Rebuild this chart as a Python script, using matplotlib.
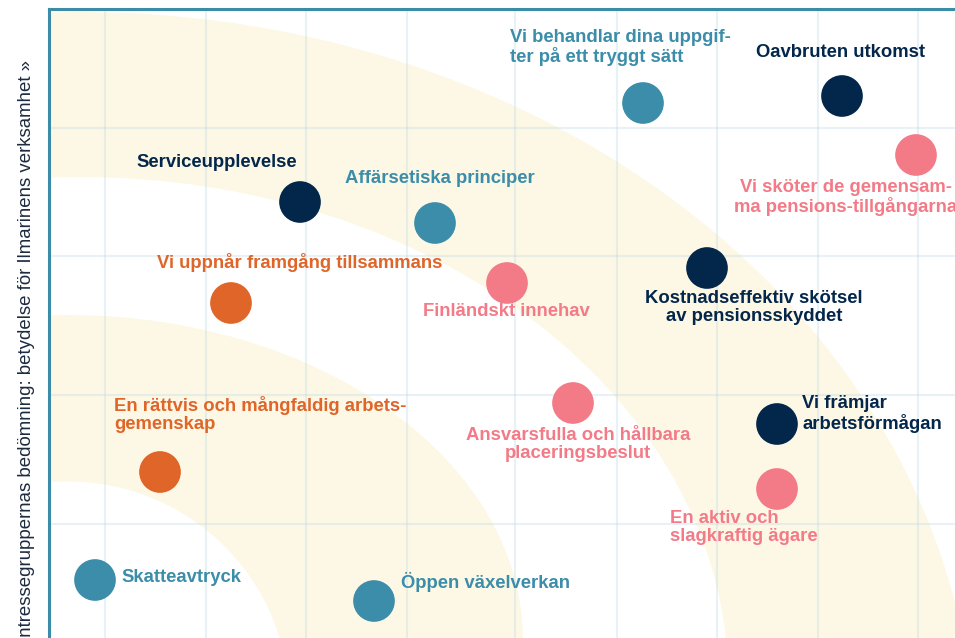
import matplotlib.pyplot as plt
from matplotlib.patches import Ellipse

# Chart data: position of each theme (x = impact, y = stakeholder importance)
labels = [
    "Vi behandlar dina uppgif-\nter på ett tryggt sätt",
    "Oavbruten utkomst",
    "Vi sköter de gemensam-\nma pensions-tillgångarna",
    "Serviceupplevelse",
    "Affärsetiska principer",
    "Vi uppnår framgång tillsammans",
    "Finländskt innehav",
    "Kostnadseffektiv skötsel\nav pensionsskyddet",
    "En rättvis och mångfaldig arbets-\ngemenskap",
    "Ansvarsfulla och hållbara\nplaceringsbeslut",
    "Vi främjar\narbetsförmågan",
    "En aktiv och\nslagkraftig ägare",
    "Skatteavtryck",
    "Öppen växelverkan",
]
groups = [
    "teal", "navy", "pink", "navy", "teal", "orange", "pink",
    "navy", "orange", "pink", "navy", "pink", "teal", "teal",
]
x_values = [5.94, 7.93, 8.67, 2.51, 3.86, 1.82, 4.58, 6.58, 1.11, 5.24, 7.28, 7.28, 0.46, 3.25]
y_values = [5.35, 5.42, 4.83, 4.36, 4.15, 3.35, 3.55, 3.70, 1.66, 2.35, 2.14, 1.49, 0.58, 0.37]

y_title = "Intressegruppernas bedömning: betydelse för Ilmarinens verksamhet »"

# Styles
COLORS = {
    "navy": "#03264b",
    "teal": "#3b8da9",
    "pink": "#f37a87",
    "orange": "#df6529",
}
YELLOW = "#fdf8e6"
SPINE = "#3a8ca8"
FONT = "Liberation Sans"

# Label layout: offset from the dot in pixels (dx, dy up) of the last line's
# baseline, and alignment
label_offsets = [
    (-133, 41), (-2, 39), (-70, -57), (-83, 35), (5, 40), (69, 35), (-1, -33),
    (47, -53), (-46, 43), (5, -55), (25, -5), (-107, -52), (26, -2), (27, 13),
]
label_align = [
    "left", "center", "center", "center", "center", "center", "center",
    "center", "left", "center", "left", "left", "left", "left",
]

# Background bands (center, width, height, color), drawn from outside in
bands = [
    ((0.31, -1.22), 17.90, 14.96, YELLOW),
    ((0.31, -0.42), 12.96, 10.06, "white"),
    ((0.19, -0.02), 9.10, 6.50, YELLOW),
    ((0.19, -0.65), 4.43, 4.43, "white"),
]

grid_x = [0.56, 1.57, 2.57, 3.58, 4.66, 5.68, 6.68, 7.69, 8.69]
grid_y = [1.14, 2.43, 3.82, 5.10]


def draw_background(ax):
    """
    Draw the pale yellow bands and the light grid.
    """
    for center, w, h, color in bands:
        ax.add_patch(Ellipse(center, w, h, facecolor=color, edgecolor="none", zorder=1))

    ax.set_xticks(grid_x)
    ax.set_yticks(grid_y)
    ax.tick_params(length=0, labelleft=False, labelbottom=False)
    ax.set_axisbelow(False)
    ax.grid(True, color="#b9d6e3", alpha=0.32, linewidth=1.5)

    for side in ["right", "bottom"]:
        ax.spines[side].set_visible(False)
    for side in ["left", "top"]:
        ax.spines[side].set_color(SPINE)
        ax.spines[side].set_linewidth(2.2)
        ax.spines[side].set_zorder(6)


def draw_points(ax):
    """
    Draw the dots and their labels.
    """
    colors = [COLORS[g] for g in groups]
    ax.scatter(x_values, y_values, s=900, c=colors, linewidths=0, zorder=4)

    for i, text in enumerate(labels):
        dx, dy = label_offsets[i]
        ax.annotate(
            text, (x_values[i], y_values[i]),
            xytext=(dx * 0.72, dy * 0.72), textcoords="offset points",
            ha=label_align[i], va="baseline", multialignment=label_align[i],
            fontsize=13.3, fontweight="bold", family=FONT,
            color=COLORS[groups[i]], linespacing=1.1,
            zorder=5, annotation_clip=False,
        )


def main():
    fig = plt.figure(figsize=(9.55, 6.38), dpi=100)
    ax = fig.add_axes([49 / 955, 0, 906 / 955, 629 / 638])
    ax.set_xlim(0, 9.06)
    ax.set_ylim(0, 6.29)

    draw_background(ax)
    draw_points(ax)

    # Axis title, cut off at the bottom like the original
    fig.text(31 / 955, (638 - 60) / 638, y_title, rotation=90, rotation_mode="anchor",
             ha="right", va="baseline", fontsize=13.4, family=FONT, color="#1c2b3f")

    fig.savefig("out.png", dpi=100)
    plt.close(fig)


if __name__ == "__main__":
    main()
